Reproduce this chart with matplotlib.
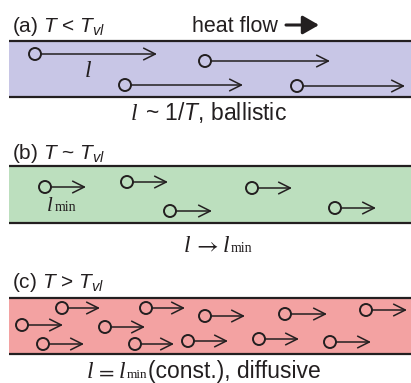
import matplotlib
matplotlib.use("Agg")
import matplotlib.pyplot as plt
from matplotlib.patches import Rectangle, Circle

plt.rcParams["mathtext.fontset"] = "custom"
plt.rcParams["mathtext.rm"] = "Liberation Sans"
plt.rcParams["mathtext.it"] = "Liberation Sans:italic"

# particles: circle centre (x, y) and arrow tip x, in pixel units of the 411x383 canvas
a_x = [35, 205, 125, 297]
a_y = [54, 61, 85, 86]
a_end = [157, 330, 243, 405]

b_x = [45, 127, 170, 252, 335]
b_y = [187, 182, 211, 188, 208]
b_end = [86, 168, 212, 292, 376]

c_x = [62, 22, 43, 146, 105, 135, 205, 188, 285, 259, 366, 330]
c_y = [308, 325, 344, 308, 327, 344, 316, 341, 314, 339, 310, 342]
c_end = [100, 63, 84, 185, 145, 174, 245, 228, 327, 299, 407, 371]

bands = [(41, 97, "#c8c6e6"), (166, 223, "#bcdfbe"), (298, 354, "#f3a2a2")]
headers = [("(a) $T$ < $T_{vl}$", 32), ("(b) $T$ ~ $T_{vl}$", 159), ("(c) $T$ > $T_{vl}$", 288)]

INK = "#231f20"
SANS = ["Liberation Sans", "DejaVu Sans"]
SERIF = ["Liberation Serif", "DejaVu Serif"]

fig = plt.figure(figsize=(4.11, 3.83), dpi=100)
ax = fig.add_axes([0, 0, 1, 1])
ax.set_xlim(0, 411)
ax.set_ylim(383, 0)
ax.axis("off")

for top, bot, col in bands:
    ax.add_patch(Rectangle((9, top), 402, bot - top, fc=col, ec="none", zorder=0))
    ax.plot([9, 411], [top, top], color=INK, lw=1.6, solid_capstyle="butt")
    ax.plot([9, 411], [bot, bot], color=INK, lw=1.6, solid_capstyle="butt")

R = 6


def particles(xs, ys, ends):
    for x, y, e in zip(xs, ys, ends):
        ax.add_patch(Circle((x, y), R, fc="none", ec=INK, lw=1.4, zorder=3))
        ax.annotate("", xy=(e, y), xytext=(x + R, y),
                    arrowprops=dict(arrowstyle="->,head_length=0.6,head_width=0.3",
                                    lw=1.1, color=INK, shrinkA=0, shrinkB=0,
                                    mutation_scale=14))


particles(a_x, a_y, a_end)
particles(b_x, b_y, b_end)
particles(c_x, c_y, c_end)


def serif(x, y, s, size=17, italic=True):
    ax.text(x, y, s, fontsize=size, family=SERIF, style="italic" if italic else "normal",
            color=INK, va="baseline")


def sans(x, y, s, size=16):
    ax.text(x, y, s, fontsize=size, family=SANS, color=INK, va="baseline")


for s, yb in headers:
    sans(12, yb, s, 15)

# heat flow
sans(192, 32, "heat flow", 15.5)
ax.annotate("", xy=(319, 25), xytext=(286, 25),
            arrowprops=dict(arrowstyle="-|>,head_length=0.7,head_width=0.4",
                            lw=2.2, color=INK, shrinkA=0, shrinkB=0, mutation_scale=14))

# (a) labels
serif(85, 77, "l")
serif(131, 120, "l")
sans(145, 120, "~ 1/$T$, ballistic", 16.5)

# (b) labels
serif(47, 211, "l", 15)
serif(55, 211, "min", 10, italic=False)
serif(184, 252, "l")
ax.text(193, 252, r"$\rightarrow$", fontsize=17, math_fontfamily="stix", color=INK, va="baseline")
serif(223, 252, "l")
serif(231, 252, "min", 10, italic=False)

# (c) labels
serif(87, 378, "l")
ax.text(95, 378, "$=$", fontsize=16, math_fontfamily="stix", color=INK, va="baseline")
serif(119, 378, "l")
serif(127, 378, "min", 9.5, italic=False)
sans(148, 378, "(const.), diffusive", 16.5)

fig.savefig("out.png", dpi=100)
